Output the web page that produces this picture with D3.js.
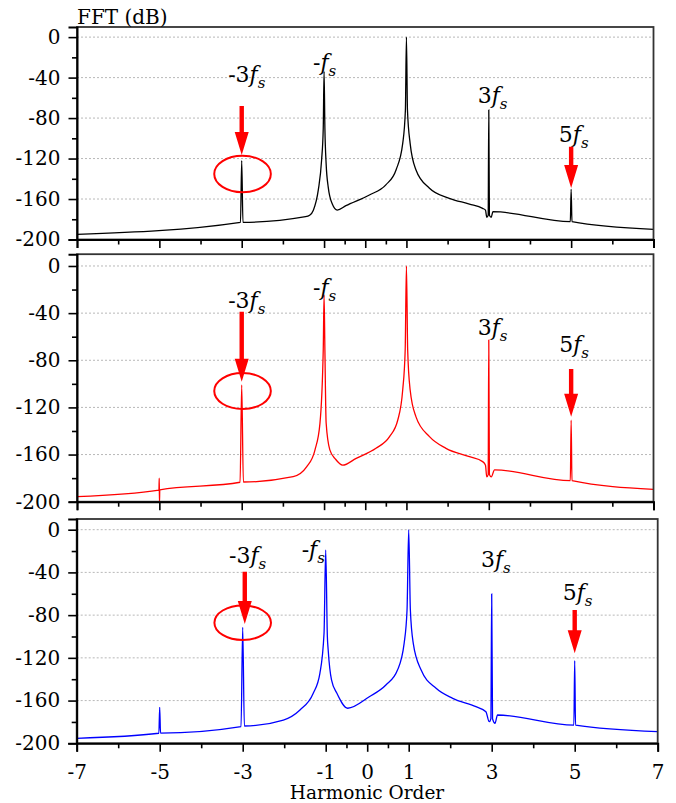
<!DOCTYPE html>
<html>
<head>
<meta charset="utf-8">
<script src="https://cdn.jsdelivr.net/npm/d3@7"></script>
<style>
  body { margin: 0; background: #fff; }
</style>
</head>
<body>
<script>
// harmonic order vs FFT magnitude (dB)
const blackSpectrum = [
  [-7,-195],[-3.03,-183],[-3.0,-122],[-2.97,-183],[-1.45,-177.5],[-1.35,-176],
  [-1.26,-171],[-1.14,-151],[-1.06,-121.5],[-1.02,-90],[-1.0,-34],[-0.98,-90],
  [-0.95,-125],[-0.9,-148],[-0.8,-165],[-0.68,-171],[-0.47,-166.6],[0.1,-156],
  [0.5,-146],[0.75,-131],[0.91,-105],[0.975,-72],[1.0,0],[1.025,-72],[1.09,-105],
  [1.23,-131],[1.56,-149.4],[2.04,-159.3],[2.53,-165],[2.85,-169.2],[2.92,-171],
  [2.95,-178],[2.985,-176],[3.0,-72],[3.015,-176],[3.06,-178],[3.1,-172.5],
  [4.98,-182.4],[5.0,-150.4],[5.02,-182.4],[7,-190]
];
const redSpectrum = [
  [-7,-195.7],[-5.01,-190.2],[-5.003,-180],[-4.997,-201],[-4.99,-189.9],
  [-3.04,-183.5],[-3.0,-101],[-2.96,-183.3],[-1.75,-178.8],[-1.42,-170.3],
  [-1.22,-156],[-1.10,-133.5],[-1.02,-71],[-1.0,-24.6],[-0.98,-71],[-0.95,-133],
  [-0.86,-156],[-0.72,-164],[-0.55,-169],[-0.22,-163.2],[0.26,-154.7],[0.59,-144.8],
  [0.79,-130.7],[0.91,-105],[0.97,-71],[1.0,0],[1.03,-71],[1.09,-105],[1.23,-127.8],
  [1.56,-144.8],[1.96,-154.7],[2.53,-161.8],[2.85,-166],[2.92,-169],[2.95,-179],
  [2.985,-177],[3.0,-62.8],[3.015,-177],[3.06,-179],[3.14,-173],[4.98,-182.2],
  [5.0,-130.7],[5.02,-182.2],[7,-189.5]
];
const blueSpectrum = [
  [-7,-195.3],[-5.02,-190.6],[-5.0,-166.3],[-4.98,-190.5],[-3.04,-184.4],
  [-3.0,-91.4],[-2.96,-183.8],[-2.02,-178.2],[-1.62,-168.8],[-1.30,-153.2],
  [-1.14,-134.5],[-1.04,-97],[-1.0,-19],[-0.96,-100],[-0.94,-112.6],[-0.86,-140.7],
  [-0.73,-153.2],[-0.47,-167.2],[0.05,-156.4],[0.45,-145.4],[0.73,-131.4],
  [0.89,-106.4],[0.96,-75.2],[1.0,0],[1.04,-75],[1.11,-106.4],[1.30,-131.4],
  [1.66,-148.5],[2.06,-157.9],[2.62,-165.7],[2.86,-170.4],[2.94,-179.8],
  [2.98,-177],[3.0,-60.2],[3.02,-177],[3.08,-181.3],[3.14,-173.5],[4.98,-182.9],
  [5.0,-122.6],[5.02,-182.9],[7,-189]
];

// annotation anchors (harmonic order, dB)
const labelsBlack = [{pre:"-3",x:-3.33,db:-44.4},{pre:"-",x:-1.27,db:-32.6},{pre:"3",x:2.73,db:-65.2},{pre:"5",x:4.70,db:-103.4}];
const labelsRed   = [{pre:"-3",x:-3.33,db:-35.6},{pre:"-",x:-1.27,db:-24.6},{pre:"3",x:2.73,db:-58.5},{pre:"5",x:4.71,db:-72.7}];
const labelsBlue  = [{pre:"-3",x:-3.33,db:-31.2},{pre:"-",x:-1.58,db:-25.6},{pre:"3",x:2.74,db:-34.6},{pre:"5",x:4.71,db:-65.8}];
const arrowsBlack = [{x:-3,from:-68,to:-116.5},{x:5,from:-108.3,to:-149}];
const arrowsRed   = [{x:-3,from:-38.8,to:-98.2},{x:5,from:-87.4,to:-127.9}];
const arrowsBlue  = [{x:-2.95,from:-39.3,to:-88.3},{x:5,from:-75.2,to:-115.7}];
const circleBlack = {x:-2.98,db:-135.3};
const circleRed   = {x:-2.98,db:-106.1};
const circleBlue  = {x:-3.0,db:-87.1};

const yTicks = [0,-40,-80,-120,-160,-200];
const yMinor = [-20,-60,-100,-140,-180];
const xTicks = [-7,-5,-3,-1,0,1,3,5,7];
const xMinor = [-6,-4,-2,-0.5,0.5,2,4,6];

const FONT = 'DejaVu Serif';
const W = 676, H = 803;
const svg = d3.select('body').append('svg').attr('width', W).attr('height', H);

const panels = [
  {data: blackSpectrum, color:'#000000', labels: labelsBlack, arrows: arrowsBlack, circle: circleBlack,
   left: 77, right: 653.5, top: 27, bottom: 239.5, ry: 18.2, xLabels:false},
  {data: redSpectrum, color:'#ff0000', labels: labelsRed, arrows: arrowsRed, circle: circleRed,
   left: 77, right: 653.5, top: 254.2, bottom: 501.7, ry: 18, xLabels:false},
  {data: blueSpectrum, color:'#0000ff', labels: labelsBlue, arrows: arrowsBlue, circle: circleBlue,
   left: 76.7, right: 657.7, top: 519, bottom: 743.3, ry: 17.3, xLabels:true}
];

panels.forEach((p, i) => {
  const x = d3.scaleLinear().domain([-7, 7]).range([p.left, p.right]);
  const y = d3.scaleLinear().domain([-200, 10]).range([p.bottom, p.top]);
  const g = svg.append('g');

  // grid
  g.selectAll('line.grid').data(yTicks.filter(d => d > -200)).enter().append('line')
    .attr('x1', p.left).attr('x2', p.right)
    .attr('y1', d => y(d)).attr('y2', d => y(d))
    .attr('stroke', '#b0b0b0').attr('stroke-width', 0.9).attr('stroke-dasharray', '2,2');

  // curve
  g.append('clipPath').attr('id', 'clip' + i).append('rect')
    .attr('x', p.left).attr('y', p.top).attr('width', p.right - p.left).attr('height', p.bottom - p.top);
  g.append('path').datum(p.data)
    .attr('clip-path', `url(#clip${i})`)
    .attr('d', d3.line().x(d => x(d[0])).y(d => y(d[1])).curve(d3.curveMonotoneX))
    .attr('fill', 'none').attr('stroke', p.color).attr('stroke-width', 1.3);

  // frame
  g.append('rect').attr('x', p.left).attr('y', p.top)
    .attr('width', p.right - p.left).attr('height', p.bottom - p.top)
    .attr('fill', 'none').attr('stroke', '#333').attr('stroke-width', 1.8);

  // y axis
  const ya = g.append('g').attr('transform', `translate(${p.left},0)`)
    .call(d3.axisLeft(y).tickValues(yTicks).tickSize(8.5).tickPadding(8).tickFormat(d => String(d)));
  ya.selectAll('text').attr('fill', '#000')
    .style('font-family', FONT).style('font-size', '20px');
  ya.selectAll('line').attr('stroke-width', 1.6);
  ya.select('.domain').attr('stroke-width', 2);
  const yma = g.append('g').attr('transform', `translate(${p.left},0)`)
    .call(d3.axisLeft(y).tickValues(yMinor).tickSize(5).tickFormat(''));
  yma.select('.domain').remove();
  yma.selectAll('line').attr('stroke-width', 1.6);

  // x axis
  const xa = g.append('g').attr('transform', `translate(0,${p.bottom})`)
    .call(d3.axisBottom(x).tickValues(xTicks).tickSize(8.5).tickPadding(13)
      .tickFormat(d => p.xLabels ? String(d) : ''));
  xa.selectAll('text').attr('fill', '#000')
    .style('font-family', FONT).style('font-size', '20px');
  xa.selectAll('line').attr('stroke-width', 1.6);
  xa.select('.domain').attr('stroke-width', 2);
  const xma = g.append('g').attr('transform', `translate(0,${p.bottom})`)
    .call(d3.axisBottom(x).tickValues(xMinor).tickSize(5).tickFormat(''));
  xma.select('.domain').remove();
  xma.selectAll('line').attr('stroke-width', 1.6);

  // labels like -3fs
  p.labels.forEach(l => {
    const t = g.append('text').attr('x', x(l.x)).attr('y', y(l.db))
      .style('font-family', FONT).style('font-size', '22px').attr('fill', '#000');
    t.append('tspan').text(l.pre);
    t.append('tspan').style('font-style', 'italic').text('f');
    t.append('tspan').style('font-style', 'italic').style('font-size', '15px')
      .attr('dy', 6).attr('dx', 0).text('s');
  });

  // red arrows
  p.arrows.forEach(a => {
    const ax = x(a.x), y0 = y(a.from), y1 = y(a.to);
    const headLen = 23, headW = 7, shaftW = 2.2;
    g.append('path')
      .attr('d', `M${ax - shaftW},${y0} L${ax + shaftW},${y0} L${ax + shaftW},${y1 - headLen}
        L${ax + headW},${y1 - headLen} L${ax},${y1} L${ax - headW},${y1 - headLen}
        L${ax - shaftW},${y1 - headLen} Z`)
      .attr('fill', '#ff0000');
  });

  // red ellipse
  g.append('ellipse').attr('cx', x(p.circle.x)).attr('cy', y(p.circle.db))
    .attr('rx', 28.3).attr('ry', p.ry)
    .attr('fill', 'none').attr('stroke', '#ff0000').attr('stroke-width', 2);
});

svg.append('text').attr('x', 77).attr('y', 24)
  .style('font-family', FONT).style('font-size', '20px').text('FFT (dB)');
svg.append('text').attr('x', 367).attr('y', 799).attr('text-anchor', 'middle')
  .style('font-family', FONT).style('font-size', '18.5px').text('Harmonic Order');
</script>
</body>
</html>
